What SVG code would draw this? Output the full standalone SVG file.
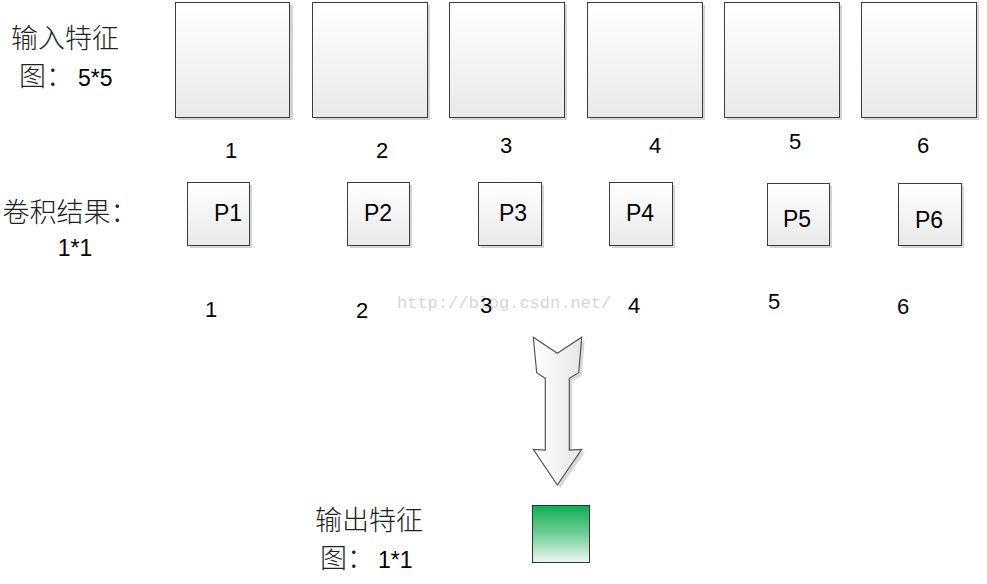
<svg xmlns="http://www.w3.org/2000/svg" width="987" height="584" viewBox="0 0 987 584">
<defs>
<linearGradient id="boxg" x1="0" y1="0" x2="0" y2="1">
<stop offset="0" stop-color="#ffffff"/>
<stop offset="1" stop-color="#e9e9e9"/>
</linearGradient>
<linearGradient id="arrg" x1="0" y1="0" x2="1" y2="0">
<stop offset="0" stop-color="#ffffff"/>
<stop offset="1" stop-color="#e6e6e6"/>
</linearGradient>
<linearGradient id="greeng" x1="0" y1="0" x2="0" y2="1">
<stop offset="0" stop-color="#0fae57"/>
<stop offset="0.5" stop-color="#6fcf96"/>
<stop offset="1" stop-color="#eef7f2"/>
</linearGradient>
</defs>
<style>
.box{fill:url(#boxg);stroke:#3c3c3c;stroke-width:1}
.sh{fill:#d4d4d4}
.cn{font-family:"Noto Sans CJK SC",sans-serif;font-size:27px;fill:#222;font-weight:300}
.lat{font-family:"Liberation Sans",Arial,sans-serif;font-size:23px;fill:#000;font-weight:400}
.num{font-family:"Liberation Sans",Arial,sans-serif;font-size:22px;fill:#000;text-anchor:middle}
.pl{font-family:"Liberation Sans",Arial,sans-serif;font-size:23px;fill:#000;text-anchor:middle}
.wm{font-family:"Liberation Mono","Courier New",monospace;font-size:17px;fill:#d6d6d6}
</style>
<rect width="987" height="584" fill="#ffffff"/>
<g id="label-input">
<text class="cn" x="65" y="48" text-anchor="middle">输入特征</text>
<text class="cn" x="19" y="86">图：<tspan class="lat" dx="5">5*5</tspan></text>
</g>
<g id="label-conv">
<text class="cn" x="70" y="222" text-anchor="middle">卷积结果：</text>
<text class="lat" x="75" y="256" text-anchor="middle">1*1</text>
</g>
<g id="label-output">
<text class="cn" x="369" y="530" text-anchor="middle">输出特征</text>
<text class="cn" x="320" y="568">图：<tspan class="lat" dx="4">1*1</tspan></text>
</g>
<g id="input-1"><rect class="sh" x="178" y="5" width="115" height="115"/><rect class="box" x="175.5" y="2.5" width="114" height="115"/></g>
<g id="input-2"><rect class="sh" x="315" y="5" width="115" height="115"/><rect class="box" x="312.5" y="2.5" width="115" height="115"/></g>
<g id="input-3"><rect class="sh" x="452" y="5" width="115" height="115"/><rect class="box" x="449.5" y="2.5" width="115" height="115"/></g>
<g id="input-4"><rect class="sh" x="590" y="5" width="115" height="115"/><rect class="box" x="587.5" y="2.5" width="115" height="115"/></g>
<g id="input-5"><rect class="sh" x="727" y="5" width="115" height="115"/><rect class="box" x="724.5" y="2.5" width="115" height="115"/></g>
<g id="input-6"><rect class="sh" x="864" y="5" width="115" height="115"/><rect class="box" x="861.5" y="2.5" width="115" height="115"/></g>
<g id="nums-top">
<text class="num" x="231" y="158">1</text>
<text class="num" x="382" y="158">2</text>
<text class="num" x="506" y="153">3</text>
<text class="num" x="655" y="153">4</text>
<text class="num" x="795" y="149">5</text>
<text class="num" x="923" y="153">6</text>
</g>
<g id="p1"><rect class="sh" x="190" y="185" width="62" height="63"/><rect class="box" x="187.5" y="182.5" width="62" height="63"/><text class="pl" x="228" y="221">P1</text></g>
<g id="p2"><rect class="sh" x="350" y="185" width="62" height="63"/><rect class="box" x="347.5" y="182.5" width="62" height="63"/><text class="pl" x="378" y="221">P2</text></g>
<g id="p3"><rect class="sh" x="481" y="185" width="63" height="63"/><rect class="box" x="478.5" y="182.5" width="63" height="63"/><text class="pl" x="513" y="221">P3</text></g>
<g id="p4"><rect class="sh" x="612" y="185" width="63" height="63"/><rect class="box" x="609.5" y="182.5" width="63" height="63"/><text class="pl" x="640" y="221">P4</text></g>
<g id="p5"><rect class="sh" x="770" y="186" width="62" height="62"/><rect class="box" x="767.5" y="183.5" width="62" height="62"/><text class="pl" x="797" y="227">P5</text></g>
<g id="p6"><rect class="sh" x="901" y="186" width="63" height="62"/><rect class="box" x="898.5" y="183.5" width="63" height="62"/><text class="pl" x="929" y="228">P6</text></g>
<text class="wm" x="397" y="308">http://blog.csdn.net/</text>
<g id="nums-bottom">
<text class="num" x="211" y="317">1</text>
<text class="num" x="362" y="318">2</text>
<text class="num" x="486" y="313">3</text>
<text class="num" x="634" y="313">4</text>
<text class="num" x="774" y="309">5</text>
<text class="num" x="903" y="314">6</text>
</g>
<g id="connectors">
<g id="big-arrow">
<path d="M536.3,340.3 L560.3,356.3 L584.7,340.3 L581.7,375.7 L572.3,381.3 L572.3,453 L584.7,452.3 L560.3,488 L536.3,452.3 L548.3,453 L548.3,381.3 L539.7,375.7 Z" fill="#d8d8d8"/>
<path d="M533.3,337.3 L557.3,353.3 L581.7,337.3 L578.7,372.7 L569.3,378.3 L569.3,450 L581.7,449.3 L557.3,485 L533.3,449.3 L545.3,450 L545.3,378.3 L536.7,372.7 Z" fill="url(#arrg)" stroke="#555555" stroke-width="1.2" stroke-linejoin="miter"/>
</g>
</g>
<g id="output">
<rect x="532.5" y="505.5" width="57" height="57" fill="url(#greeng)" stroke="#333333" stroke-width="1"/>
</g>
</svg>
